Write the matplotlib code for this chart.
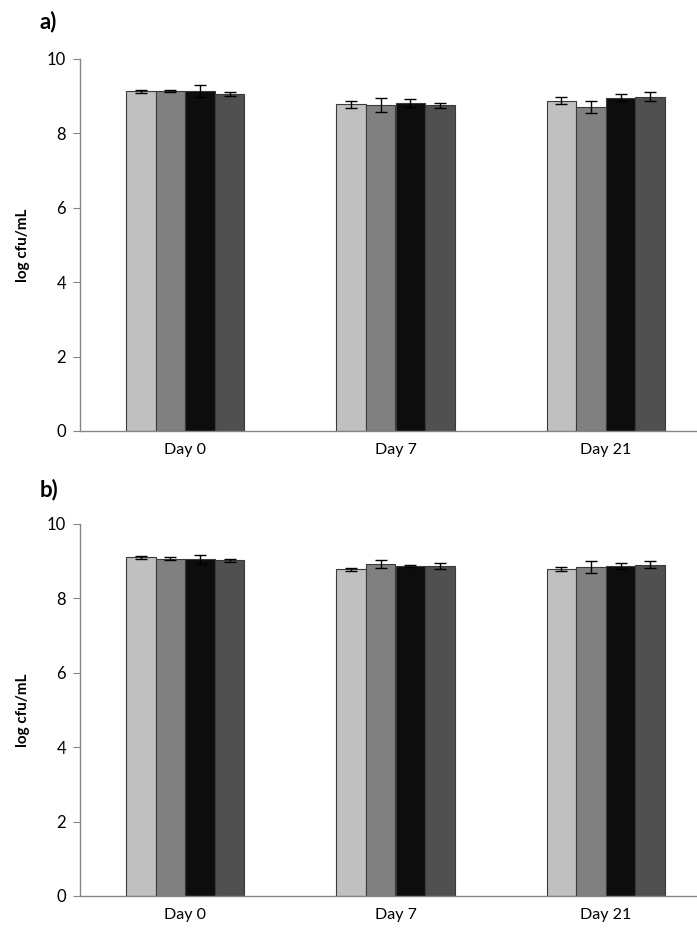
import numpy as np
import matplotlib
matplotlib.use('Agg')
from matplotlib import pyplot as plt

days = ['Day 0', 'Day 7', 'Day 21']
colors = ['#c0c0c0', '#808080', '#0d0d0d', '#505050']

# panel a) - four series per day
a_vals = [[9.13, 8.78, 8.88],
          [9.13, 8.76, 8.72],
          [9.14, 8.82, 8.96],
          [9.06, 8.75, 8.99]]
a_err = [[0.04, 0.09, 0.10],
         [0.03, 0.19, 0.16],
         [0.16, 0.10, 0.10],
         [0.05, 0.07, 0.13]]

# panel b)
b_vals = [[9.10, 8.78, 8.80],
          [9.07, 8.92, 8.84],
          [9.05, 8.87, 8.87],
          [9.02, 8.87, 8.91]]
b_err = [[0.04, 0.03, 0.05],
         [0.04, 0.11, 0.16],
         [0.12, 0.02, 0.08],
         [0.04, 0.07, 0.09]]

plt.rcParams['font.family'] = ['Lato', 'DejaVu Sans']

W, H = 697, 934
fig = plt.figure(figsize=(W / 100, H / 100), dpi=100)


def draw_panel(ax, vals, errs, label, label_y):
    x = np.arange(len(days))
    bw = 0.141
    for i in range(4):
        ax.bar(x + (i - 1.5) * bw, vals[i], bw, yerr=errs[i],
               color=colors[i], edgecolor='#3a3a3a', linewidth=0.8,
               error_kw=dict(ecolor='black', elinewidth=1, capsize=4, capthick=1))
    ax.set_xlim(-0.5, 2.5)
    ax.set_ylim(0, 10)
    ax.set_yticks([0, 2, 4, 6, 8, 10])
    ax.set_xticks(x)
    ax.set_xticklabels(days, fontsize=11.5)
    ax.tick_params(axis='x', length=0, pad=9)
    ax.tick_params(axis='y', length=5, color='#868686', labelsize=12, pad=5)
    for s in ['top', 'right']:
        ax.spines[s].set_visible(False)
    for s in ['left', 'bottom']:
        ax.spines[s].set_color('#868686')
        ax.spines[s].set_linewidth(1)
    ax.set_ylabel('log cfu/mL', fontsize=11, fontweight='bold', labelpad=12)
    fig.text(40 / W, 1 - label_y / H, label, fontsize=16, fontweight='bold',
             ha='left', va='center')


ax_w = 631 / W
ax1 = fig.add_axes([80 / W, 1 - 431 / H, ax_w, 372 / H])
draw_panel(ax1, a_vals, a_err, 'a)', 22)
ax2 = fig.add_axes([80 / W, 1 - 896 / H, ax_w, 372 / H])
draw_panel(ax2, b_vals, b_err, 'b)', 490)

fig.savefig('out.png', dpi=100)
